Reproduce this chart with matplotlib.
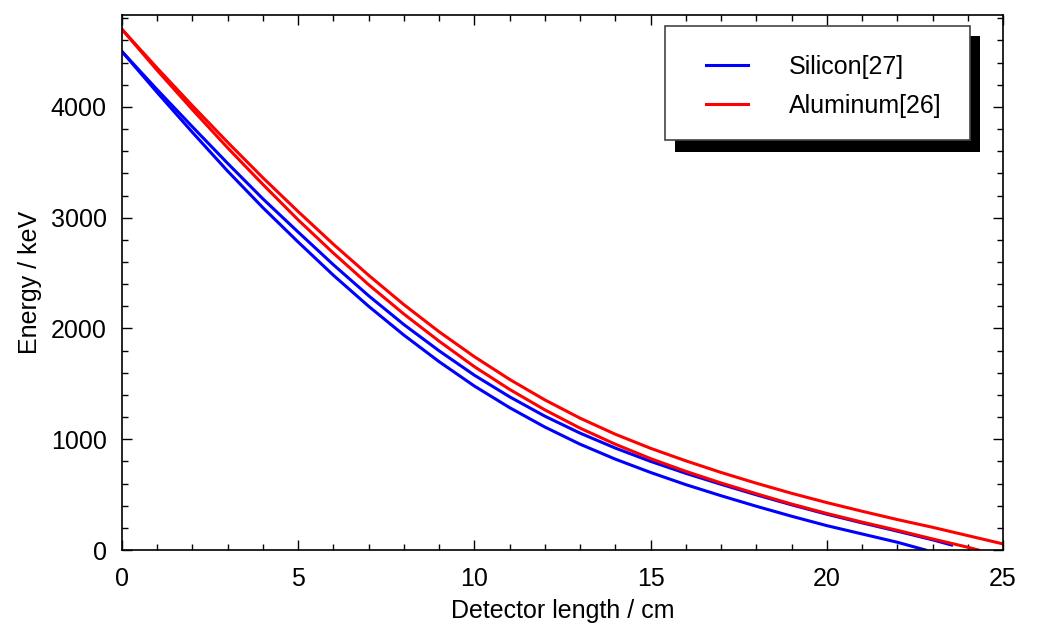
import matplotlib
matplotlib.use("Agg")
import matplotlib.pyplot as plt
from matplotlib.patches import Rectangle
from matplotlib.ticker import MultipleLocator

plt.rcParams['font.family'] = ['Liberation Sans', 'DejaVu Sans']

# Silicon (two curves)
si_a_x = [0, 1, 2, 3, 4, 5, 6, 7, 8, 9, 10, 11, 12, 13, 14, 15, 16, 17, 18, 19, 20, 21, 22, 22.8]
si_a_y = [4500, 4130, 3770, 3420, 3090, 2780, 2480, 2200, 1940, 1700, 1480, 1285, 1110, 955,
          820, 700, 590, 490, 395, 305, 220, 145, 70, 0]
si_b_x = [0, 1, 2, 3, 4, 5, 6, 7, 8, 9, 10, 11, 12, 13, 14, 15, 16, 17, 18, 19, 20, 21, 22, 23, 23.54]
si_b_y = [4500, 4155, 3820, 3490, 3170, 2870, 2575, 2295, 2035, 1798, 1578, 1383, 1208, 1055,
          920, 800, 692, 593, 498, 408, 323, 245, 170, 92, 45]
# Aluminum (two curves)
al_a_x = [0, 1, 2, 3, 4, 5, 6, 7, 8, 9, 10, 11, 12, 13, 14, 15, 16, 17, 18, 19, 20, 21, 22, 23, 24, 24.3]
al_a_y = [4700, 4330, 3975, 3630, 3300, 2980, 2680, 2395, 2130, 1885, 1655, 1450, 1265, 1100,
          955, 825, 710, 605, 508, 415, 330, 252, 178, 100, 25, 0]
al_b_x = [0, 1, 2, 3, 4, 5, 6, 7, 8, 9, 10, 11, 12, 13, 14, 15, 16, 17, 18, 19, 20, 21, 22, 23, 24, 25]
al_b_y = [4700, 4350, 4010, 3680, 3360, 3055, 2760, 2480, 2215, 1970, 1745, 1540, 1355, 1190,
          1045, 918, 805, 700, 603, 512, 428, 350, 275, 205, 130, 55]

W, H = 1037, 633
fig = plt.figure(figsize=(W / 100, H / 100), dpi=100)
ax = fig.add_axes([122 / W, 1 - 550 / H, (1003 - 122) / W, (550 - 15) / H])

lw = 2.2
ax.plot(si_a_x, si_a_y, color='#0000ff', lw=lw, label='Silicon[27]')
ax.plot(si_b_x, si_b_y, color='#0000ff', lw=lw)
ax.plot(al_a_x, al_a_y, color='#ff0000', lw=lw, label='Aluminum[26]')
ax.plot(al_b_x, al_b_y, color='#ff0000', lw=lw)

ax.set_xlim(0, 25)
ax.set_ylim(0, 4830)
ax.xaxis.set_major_locator(MultipleLocator(5))
ax.xaxis.set_minor_locator(MultipleLocator(1))
ax.yaxis.set_major_locator(MultipleLocator(1000))
ax.yaxis.set_minor_locator(MultipleLocator(200))
ax.tick_params(which='both', direction='in', top=True, right=True, labelsize=18, width=1)
ax.tick_params(which='major', length=7)
ax.tick_params(which='minor', length=4)
ax.tick_params(axis='x', pad=12)
ax.tick_params(axis='y', pad=11)
for s in ax.spines.values():
    s.set_linewidth(1.2)

ax.set_xlabel('Detector length / cm', fontsize=18, labelpad=6)
ax.set_ylabel('Energy / keV', fontsize=18, labelpad=6)


# legend box with ROOT-style black shadow
def px_rect(x0, y0, x1, y1, **kw):
    return Rectangle((x0 / W, 1 - y1 / H), (x1 - x0) / W, (y1 - y0) / H,
                     transform=fig.transFigure, clip_on=False, **kw)


ax.add_patch(px_rect(675, 36, 980, 152, facecolor='black', edgecolor='none', zorder=5))
ax.add_patch(px_rect(665, 26, 970, 140, facecolor='white', edgecolor='#444444', lw=1.2, zorder=6))

leg = ax.legend(loc='upper left',
                bbox_to_anchor=((706 - 122) / (1003 - 122), 1 - (55 - 15) / (550 - 15)),
                frameon=False, fontsize=18, handlelength=1.68, handletextpad=1.64,
                labelspacing=0.6, borderaxespad=0, borderpad=0)
leg.set_zorder(10)

fig.savefig('out.png', dpi=100)
